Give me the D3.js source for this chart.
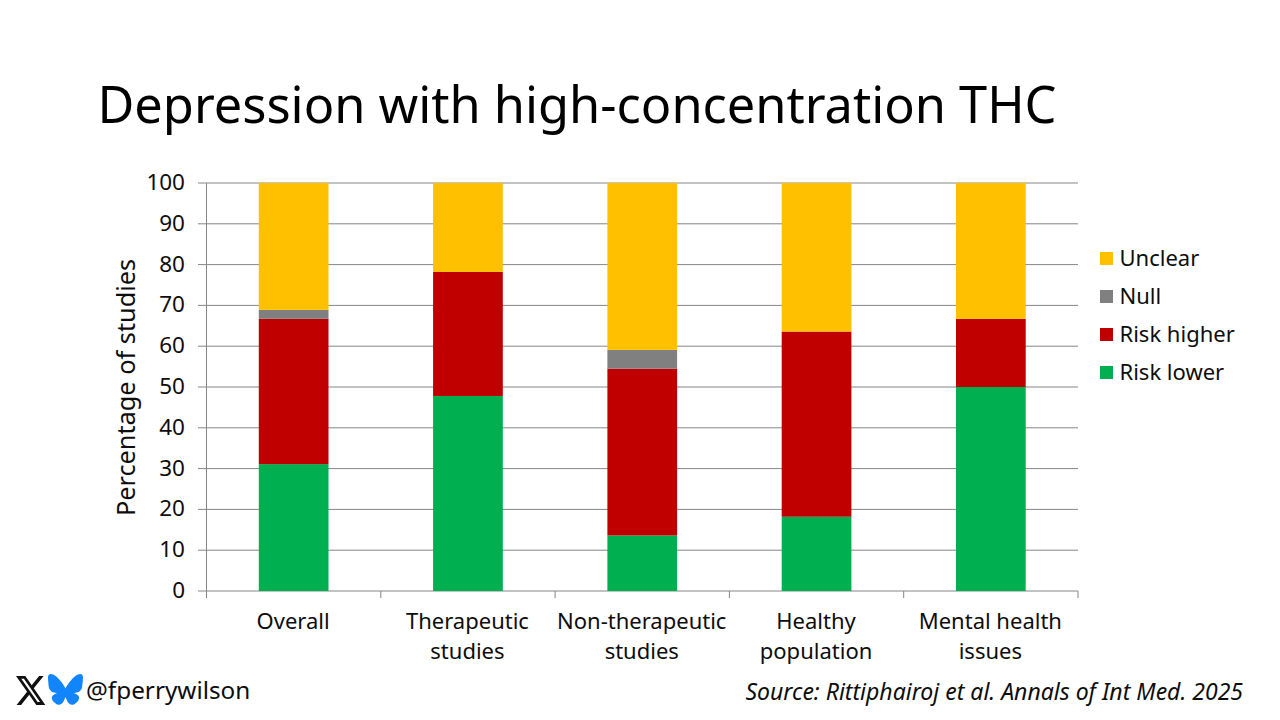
<!DOCTYPE html>
<html>
<head>
<meta charset="utf-8">
<script src="https://cdn.jsdelivr.net/npm/d3@7"></script>
<style>
  html, body { margin: 0; padding: 0; background: #fff; overflow: hidden; }
  text { font-family: "Noto Sans", sans-serif; fill: #0d0d0d; }
</style>
</head>
<body>
<div id="chart"></div>
<script>
// Percent of studies in each band, bottom to top
var categories = [["Overall"], ["Therapeutic", "studies"], ["Non-therapeutic", "studies"], ["Healthy", "population"], ["Mental health", "issues"]];
var riskLower = [31.1, 47.8, 13.6, 18.2, 50];
var riskHigher = [35.6, 30.4, 40.9, 45.4, 16.7];
var nullResult = [2.2, 0, 4.6, 0, 0];
var unclear = [31.1, 21.8, 40.9, 36.4, 33.3];
var yTicks = [0, 10, 20, 30, 40, 50, 60, 70, 80, 90, 100];
var legendNames = ["Unclear", "Null", "Risk higher", "Risk lower"];

var seriesList = [
  { name: "Risk lower", values: riskLower, color: "#00b050" },
  { name: "Risk higher", values: riskHigher, color: "#c00000" },
  { name: "Null", values: nullResult, color: "#808080" },
  { name: "Unclear", values: unclear, color: "#ffc000" }
];

const svg = d3.select("#chart").append("svg")
  .attr("width", 1280)
  .attr("height", 720);

svg.append("text")
  .attr("x", 97.5).attr("y", 123)
  .style("font-size", "50.5px")
  .style("fill", "#000")
  .text("Depression with high-concentration THC");

const x = d3.scaleBand()
  .domain(d3.range(categories.length))
  .range([206.5, 1078])
  .paddingInner(0.6)
  .paddingOuter(0.3);
const y = d3.scaleLinear().domain([0, 100]).range([591, 183]);

// gridlines and tick labels
yTicks.forEach(t => {
  svg.append("line")
    .attr("x1", 198).attr("x2", 1078)
    .attr("y1", y(t)).attr("y2", y(t))
    .style("stroke", "#868686").style("stroke-width", 1);
  svg.append("text")
    .attr("x", 185).attr("y", y(t) + 7)
    .attr("text-anchor", "end")
    .style("font-size", "22.5px")
    .text(t);
});

// vertical axis and category ticks
svg.append("line")
  .attr("x1", 206.5).attr("x2", 206.5).attr("y1", 183).attr("y2", 598)
  .style("stroke", "#868686").style("stroke-width", 1);
d3.range(categories.length + 1).forEach(i => {
  const tx = 206.5 + i * (1078 - 206.5) / categories.length;
  svg.append("line")
    .attr("x1", tx).attr("x2", tx).attr("y1", 591).attr("y2", 598)
    .style("stroke", "#868686").style("stroke-width", 1);
});

// stacked bars
const stacked = d3.stack().keys(d3.range(seriesList.length)).value((d, k) => seriesList[k].values[d])(d3.range(categories.length));
stacked.forEach((layer, k) => {
  svg.append("g").selectAll("rect")
    .data(layer)
    .join("rect")
    .attr("x", (d, i) => x(i))
    .attr("width", x.bandwidth())
    .attr("y", d => y(d[1]))
    .attr("height", d => y(d[0]) - y(d[1]))
    .style("fill", seriesList[k].color);
});

// category labels
categories.forEach((lines, i) => {
  const cx = x(i) + x.bandwidth() / 2 - 0.5;
  lines.forEach((l, j) => {
    svg.append("text")
      .attr("x", cx).attr("y", 628.5 + j * 30)
      .attr("text-anchor", "middle")
      .style("font-size", "22px")
      .text(l);
  });
});

svg.append("text")
  .attr("transform", "translate(135,387.5) rotate(-90)")
  .attr("text-anchor", "middle")
  .style("font-size", "25.3px")
  .text("Percentage of studies");

// legend
legendNames.forEach((name, i) => {
  const ly = 258.5 + i * 38;
  svg.append("rect")
    .attr("x", 1100).attr("y", ly - 6.5)
    .attr("width", 13).attr("height", 13)
    .style("fill", seriesList.find(s => s.name == name).color);
  svg.append("text")
    .attr("x", 1119.5).attr("y", ly + 7.5)
    .style("font-size", "22px")
    .text(name);
});

// footer
svg.append("path")
  .attr("transform", "translate(14.3,672.6) scale(1.36,1.49)")
  .attr("d", "M18.244 2.25h3.308l-7.227 8.26 8.502 11.24H16.17l-5.214-6.817L4.99 21.75H1.68l7.73-8.835L1.254 2.25H8.08l4.713 6.231zm-1.161 17.52h1.833L7.084 4.126H5.117z")
  .style("fill", "#111");
svg.append("path")
  .attr("transform", "translate(47.4,673.4) scale(0.0603)")
  .attr("d", "m135.72 44.03c66.496 49.921 138.02 151.14 164.28 205.46 26.262-54.316 97.782-155.54 164.28-205.46 47.98-36.021 125.72-63.892 125.72 24.795 0 17.712-10.155 148.79-16.111 170.07-20.703 73.984-96.144 92.854-163.25 81.433 117.3 19.964 147.14 86.092 82.697 152.22-122.39 125.59-175.91-31.511-189.63-71.766-2.514-7.3797-3.6904-10.832-3.7077-7.8964-0.0174-2.9357-1.1937 0.51669-3.7077 7.8964-13.714 40.255-67.233 197.36-189.63 71.766-64.444-66.128-34.605-132.26 82.697-152.22-67.108 11.421-142.55-7.4491-163.25-81.433-5.9562-21.282-16.111-152.36-16.111-170.07 0-88.687 77.742-60.816 125.72-24.795z")
  .style("fill", "#1185fe");
svg.append("text")
  .attr("x", 86).attr("y", 699)
  .style("font-size", "24.3px")
  .text("@fperrywilson");
svg.append("text")
  .attr("x", 1243).attr("y", 700)
  .attr("text-anchor", "end")
  .style("font-size", "23px")
  .style("font-style", "italic")
  .text("Source: Rittiphairoj et al. Annals of Int Med. 2025");
</script>
</body>
</html>
